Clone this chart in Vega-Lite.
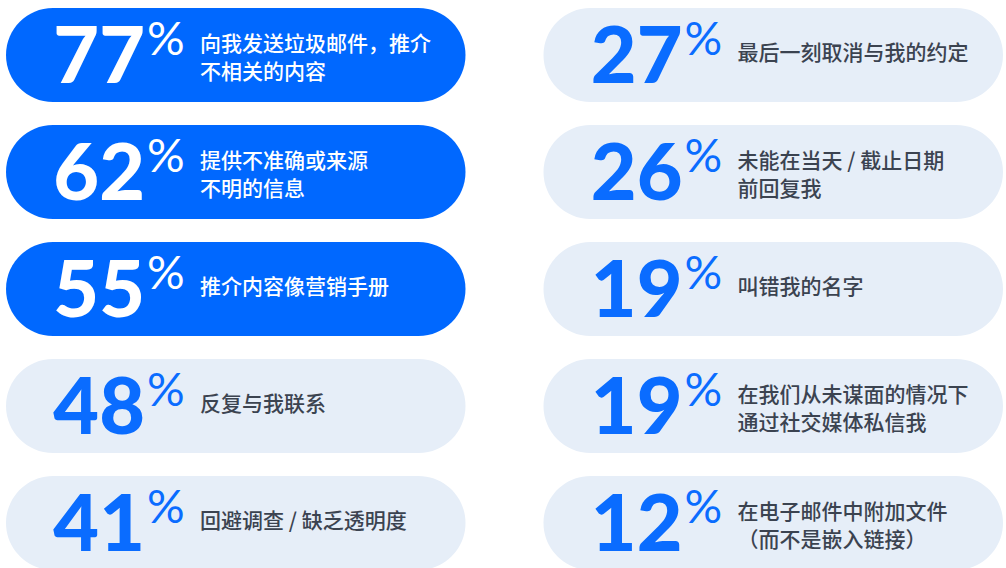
{
  "$schema": "https://vega.github.io/schema/vega-lite/v6.json",
  "width": 1006,
  "height": 568,
  "autosize": {"type": "none"},
  "padding": 0,
  "background": "white",
  "config": {"view": {"stroke": null}},
  "data": {
    "values": [
      {"col": "L", "row": 1, "value": "77", "hi": true, "label": ["向我发送垃圾邮件，推介", "不相关的内容"]},
      {"col": "L", "row": 2, "value": "62", "hi": true, "label": ["提供不准确或来源", "不明的信息"]},
      {"col": "L", "row": 3, "value": "55", "hi": true, "label": ["推介内容像营销手册"]},
      {"col": "L", "row": 4, "value": "48", "hi": false, "label": ["反复与我联系"]},
      {"col": "L", "row": 5, "value": "41", "hi": false, "label": ["回避调查 / 缺乏透明度"]},
      {"col": "R", "row": 1, "value": "27", "hi": false, "label": ["最后一刻取消与我的约定"]},
      {"col": "R", "row": 2, "value": "26", "hi": false, "label": ["未能在当天 / 截止日期", "前回复我"]},
      {"col": "R", "row": 3, "value": "19", "hi": false, "label": ["叫错我的名字"]},
      {"col": "R", "row": 4, "value": "19", "hi": false, "label": ["在我们从未谋面的情况下", "通过社交媒体私信我"]},
      {"col": "R", "row": 5, "value": "12", "hi": false, "label": ["在电子邮件中附加文件", "（而不是嵌入链接）"]}
    ]
  },
  "encoding": {
    "y": {"field": "row", "type": "ordinal", "axis": null,
          "scale": {"domain": [1, 2, 3, 4, 5], "range": [8, 570], "paddingInner": 0.1966, "paddingOuter": 0}}
  },
  "layer": [
    {
      "mark": {"type": "rect", "cornerRadius": 47},
      "encoding": {
        "x": {"field": "col", "type": "nominal", "axis": null,
              "scale": {"domain": ["L", "R"], "range": [6, 1003], "paddingInner": 0.1451, "paddingOuter": 0}},
        "fill": {"condition": {"test": "datum.hi", "value": "#0068FF"}, "value": "#E6EEF8"}
      }
    },
    {
      "mark": {"type": "text", "align": "right", "baseline": "alphabetic", "dx": 139, "dy": 28,
               "fontSize": 79, "font": "Lato", "fontWeight": 900},
      "encoding": {
        "x": {"field": "col", "type": "nominal", "axis": null, "bandPosition": 0},
        "text": {"field": "value", "type": "nominal"},
        "color": {"condition": {"test": "datum.hi", "value": "#FFFFFF"}, "value": "#0A6CFF"}
      }
    },
    {
      "mark": {"type": "text", "align": "left", "baseline": "alphabetic", "dx": 141, "dy": 0,
               "fontSize": 47, "font": "Lato", "fontWeight": 400, "text": "%"},
      "encoding": {
        "x": {"field": "col", "type": "nominal", "axis": null, "bandPosition": 0},
        "color": {"condition": {"test": "datum.hi", "value": "#FFFFFF"}, "value": "#0A6CFF"}
      }
    },
    {
      "transform": [{"filter": "length(datum.label) == 1"}],
      "mark": {"type": "text", "align": "left", "baseline": "middle", "dx": 194, "dy": -1,
               "fontSize": 21, "lineHeight": 28, "font": "Noto Sans CJK SC", "fontWeight": 500},
      "encoding": {
        "x": {"field": "col", "type": "nominal", "axis": null, "bandPosition": 0},
        "text": {"field": "label", "type": "nominal"},
        "color": {"condition": {"test": "datum.hi", "value": "#FFFFFF"}, "value": "#3B4350"}
      }
    },
    {
      "transform": [{"filter": "length(datum.label) == 2"}],
      "mark": {"type": "text", "align": "left", "baseline": "middle", "dx": 194, "dy": -10,
               "fontSize": 21, "lineHeight": 28, "font": "Noto Sans CJK SC", "fontWeight": 500},
      "encoding": {
        "x": {"field": "col", "type": "nominal", "axis": null, "bandPosition": 0},
        "text": {"field": "label", "type": "nominal"},
        "color": {"condition": {"test": "datum.hi", "value": "#FFFFFF"}, "value": "#3B4350"}
      }
    }
  ]
}
